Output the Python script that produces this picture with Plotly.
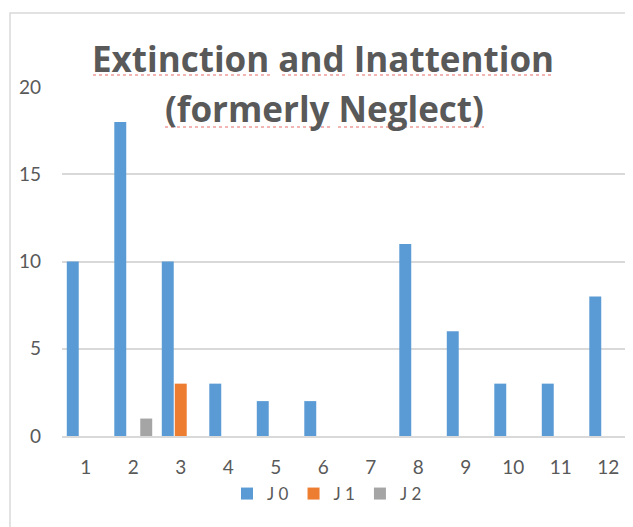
import plotly.graph_objects as go

categories = [str(i) for i in range(1, 13)]
j0 = [10, 18, 10, 3, 2, 2, 0, 11, 6, 3, 3, 8]
j1 = [0, 0, 3, 0, 0, 0, 0, 0, 0, 0, 0, 0]
j2 = [0, 1, 0, 0, 0, 0, 0, 0, 0, 0, 0, 0]
series_names = ["J 0", "J 1", "J 2"]
colors = ["#5b9bd5", "#ed7d31", "#a5a5a5"]
y_ticks = [0, 5, 10, 15, 20]

title_line1 = "Extinction and Inattention"
title_line2 = "(formerly Neglect)"

W, H = 633, 527
OFF = 8  # page body margin offset
# plot box in screen pixels
SL, SR, ST, SB = 62, 632, 87, 436
L, T = SL - OFF, ST - OFF
R, B = W - (SR - OFF), H - (SB - OFF)
pw, ph = SR - SL, SB - ST

def px2x(px):
    return (px - SL) / pw

def py2y(py):
    return (SB - py) / ph

TFONT = "Open Sans"
FONT = "Lato"
GREY = "#595959"

fig = go.Figure()
for name, vals, col in zip(series_names, [j0, j1, j2], colors):
    fig.add_trace(go.Bar(x=categories, y=vals, name=name,
                         marker=dict(color=col, line=dict(width=0))))

fig.add_annotation(x=px2x(323), y=py2y(59), xref="paper", yref="paper",
                   text="<b>" + title_line1 + "</b>", showarrow=False,
                   xanchor="center", yanchor="middle",
                   font=dict(family=TFONT, size=35, color=GREY))
fig.add_annotation(x=px2x(324), y=py2y(108), xref="paper", yref="paper",
                   text="<b>" + title_line2 + "</b>", showarrow=False,
                   xanchor="center", yanchor="middle",
                   font=dict(family=TFONT, size=35, color=GREY))

# spell-check style dotted underlines under title words
underlines = [(93, 271, 75), (282, 346, 75), (356, 554, 75),
              (165, 331, 127), (338, 484, 127)]
for x0, x1, yy in underlines:
    fig.add_shape(type="line", xref="paper", yref="paper",
                  x0=px2x(x0), x1=px2x(x1), y0=py2y(yy), y1=py2y(yy),
                  line=dict(color="#e86a6a", width=1.2, dash="dot"))

# outer chart border
fig.add_shape(type="rect", xref="paper", yref="paper",
              x0=px2x(10), x1=px2x(660), y0=py2y(560), y1=py2y(13),
              line=dict(color="#d9d9d9", width=1.5), layer="below")

fig.update_layout(
    width=W, height=H,
    margin=dict(l=L, r=R, t=T, b=B, pad=0, autoexpand=False),
    paper_bgcolor="white", plot_bgcolor="white",
    barmode="group", bargap=0.18, bargroupgap=0.08,
    font=dict(family=FONT, color=GREY, size=17),
    showlegend=True,
    legend=dict(orientation="h", xref="container", yref="container",
                x=(327 - OFF) / W, xanchor="center",
                y=(H - (494 - OFF)) / H, yanchor="middle",
                font=dict(family=FONT, size=17, color=GREY),
                itemwidth=30, tracegroupgap=0,
                bgcolor="rgba(0,0,0,0)"),
    xaxis=dict(type="category", showgrid=False, showline=True,
               linecolor="#d9d9d9", linewidth=1.5, ticks="",
               tickfont=dict(family=FONT, size=19, color=GREY),
               ticklabelstandoff=13, fixedrange=True, automargin=False),
    yaxis=dict(range=[0, 20], tickvals=y_ticks, showgrid=True,
               gridcolor="#d9d9d9", gridwidth=1.5, zeroline=False,
               showline=False, ticks="",
               tickfont=dict(family=FONT, size=19, color=GREY),
               ticklabelstandoff=20, fixedrange=True, automargin=False),
)

fig.write_html("out.html")
